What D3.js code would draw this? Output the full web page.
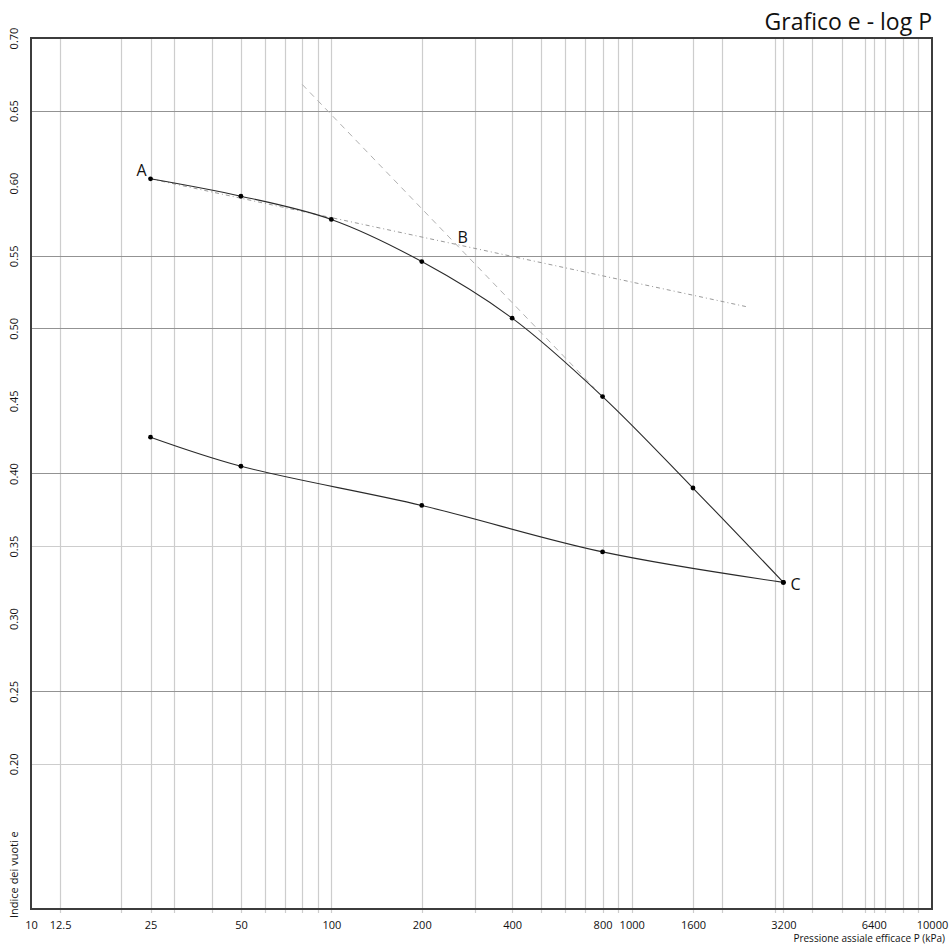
<!DOCTYPE html>
<html>
<head>
<meta charset="utf-8">
<script src="https://cdn.jsdelivr.net/npm/d3@7"></script>
<style>
  body { margin: 0; background: #fff; }
  text { font-family: "Open Sans", "Noto Sans", sans-serif; fill: #111; }
</style>
</head>
<body>
<div id="chart"></div>
<script>
const WIDTH = 949;
const HEIGHT = 944;
const LEFT = 31;
const RIGHT = 932;
const TOP = 38;
const BOTTOM = 909;

// loading branch (A -> C)
const loadP = [25, 50, 100, 200, 400, 800, 1600, 3200];
const loadE = [0.603, 0.591, 0.575, 0.546, 0.507, 0.453, 0.390, 0.325];

// unloading branch (C -> back)
const unloadP = [3200, 800, 200, 50, 25];
const unloadE = [0.325, 0.346, 0.378, 0.405, 0.425];

// construction lines
const virginP = [80, 750];
const virginE = [0.668, 0.459];
const tangentP = [25, 2400];
const tangentE = [0.603, 0.515];

const pointLabels = ['A', 'B', 'C'];
const pointLabelP = [25, 261, 3200];
const pointLabelE = [0.603, 0.558, 0.325];

const xTickLabels = [10, 12.5, 25, 50, 100, 200, 400, 800, 1000, 1600, 3200, 6400, 10000];
const xExtraGrid = [12.5, 25, 1600, 3200, 6400];
const yTickLabels = [0.20, 0.25, 0.30, 0.35, 0.40, 0.45, 0.50, 0.55, 0.60, 0.65, 0.70];
const yGridDark = [0.65, 0.55, 0.50, 0.40, 0.25];
const yGridLight = [0.35, 0.20];

let svg = d3.select('#chart').append('svg')
  .attr('width', WIDTH)
  .attr('height', HEIGHT);

let x = d3.scaleLog().domain([10, 10000]).range([LEFT, RIGHT]);
let y = d3.scaleLinear().domain([0.10, 0.70]).range([BOTTOM, TOP]);

// vertical grid: 1-9 per decade plus the labelled extras
let xGrid = [];
[10, 100, 1000].forEach((dec) => {
  for(let i = 1; i < 10; i++) xGrid.push(dec * i);
});
xGrid = xGrid.concat(xExtraGrid).filter((v) => v > 10);

svg.append('g').selectAll('line')
  .data(xGrid)
  .enter()
  .append('line')
  .attr('x1', (d) => Math.round(x(d)) + 0.5)
  .attr('x2', (d) => Math.round(x(d)) + 0.5)
  .attr('y1', TOP)
  .attr('y2', BOTTOM + 4)
  .attr('stroke', '#cdcdcd')
  .attr('stroke-width', 1.2);

svg.append('g').selectAll('line')
  .data(yGridDark)
  .enter()
  .append('line')
  .attr('x1', LEFT)
  .attr('x2', RIGHT)
  .attr('y1', (d) => Math.round(y(d)) + 0.5)
  .attr('y2', (d) => Math.round(y(d)) + 0.5)
  .attr('stroke', '#939393')
  .attr('stroke-width', 1);

svg.append('g').selectAll('line')
  .data(yGridLight)
  .enter()
  .append('line')
  .attr('x1', LEFT)
  .attr('x2', RIGHT)
  .attr('y1', (d) => Math.round(y(d)) + 0.5)
  .attr('y2', (d) => Math.round(y(d)) + 0.5)
  .attr('stroke', '#cdcdcd')
  .attr('stroke-width', 1.2);

// frame
svg.append('rect')
  .attr('x', LEFT)
  .attr('y', TOP)
  .attr('width', RIGHT - LEFT)
  .attr('height', BOTTOM - TOP)
  .attr('fill', 'none')
  .attr('stroke', '#3c3c3c')
  .attr('stroke-width', 2);

// x axis labels
let xAxis = d3.axisBottom(x)
  .tickValues(xTickLabels)
  .tickFormat((d) => String(d))
  .tickSize(0)
  .tickPadding(12);

svg.append('g')
  .attr('transform', `translate(0,${BOTTOM})`)
  .call(xAxis)
  .call((g) => g.select('.domain').remove())
  .selectAll('text')
  .style('font-size', '11px')
  .style('font-family', '"Open Sans", sans-serif')
  .attr('fill', '#111');

// y axis labels, rotated
let yAxis = d3.axisLeft(y)
  .tickValues(yTickLabels)
  .tickFormat(d3.format('.2f'))
  .tickSize(0);

svg.append('g')
  .attr('transform', `translate(${LEFT},0)`)
  .call(yAxis)
  .call((g) => g.select('.domain').remove())
  .selectAll('text')
  .attr('transform', 'rotate(-90)')
  .attr('x', 0)
  .attr('y', -17)
  .attr('dy', '0.35em')
  .attr('text-anchor', 'middle')
  .style('font-size', '11px')
  .style('font-family', '"Open Sans", sans-serif')
  .attr('fill', '#111');

// axis titles
svg.append('text')
  .attr('transform', `translate(14,${BOTTOM + 9}) rotate(-90)`)
  .attr('dy', '0.35em')
  .attr('text-anchor', 'start')
  .style('font-size', '11px')
  .text('Indice dei vuoti e');

svg.append('text')
  .attr('x', 945)
  .attr('y', 942)
  .attr('text-anchor', 'end')
  .style('font-size', '10px')
  .text('Pressione assiale efficace P  (kPa)');

svg.append('text')
  .attr('x', RIGHT)
  .attr('y', 30)
  .attr('text-anchor', 'end')
  .style('font-size', '23px')
  .text('Grafico e - log P');

// construction lines
let straight = d3.line()
  .x((d) => x(d[0]))
  .y((d) => y(d[1]));

svg.append('path')
  .attr('d', straight(d3.zip(virginP, virginE)))
  .attr('fill', 'none')
  .attr('stroke', '#b0b0b0')
  .attr('stroke-width', 1)
  .attr('stroke-dasharray', '6,5');

svg.append('path')
  .attr('d', straight(d3.zip(tangentP, tangentE)))
  .attr('fill', 'none')
  .attr('stroke', '#9a9a9a')
  .attr('stroke-width', 1)
  .attr('stroke-dasharray', '4,3,1,3');

// curves
let smooth = d3.line()
  .x((d) => x(d[0]))
  .y((d) => y(d[1]))
  .curve(d3.curveCatmullRom.alpha(0.5));

[d3.zip(loadP, loadE), d3.zip(unloadP, unloadE)].forEach((series) => {
  svg.append('path')
    .attr('d', smooth(series))
    .attr('fill', 'none')
    .attr('stroke', '#2a2a2a')
    .attr('stroke-width', 1.1);

  svg.append('g').selectAll('circle')
    .data(series)
    .enter()
    .append('circle')
    .attr('cx', (d) => x(d[0]))
    .attr('cy', (d) => y(d[1]))
    .attr('r', 2.4)
    .attr('fill', '#000');
});

// point labels A, B, C
let labelOffsets = { A: [-4, -3, 'end'], B: [1, -1, 'start'], C: [7, 8, 'start'] };
svg.append('g').selectAll('text')
  .data(d3.zip(pointLabels, pointLabelP, pointLabelE))
  .enter()
  .append('text')
  .attr('x', (d) => x(d[1]) + labelOffsets[d[0]][0])
  .attr('y', (d) => y(d[2]) + labelOffsets[d[0]][1])
  .attr('text-anchor', (d) => labelOffsets[d[0]][2])
  .style('font-size', '16px')
  .text((d) => d[0]);
</script>
</body>
</html>
